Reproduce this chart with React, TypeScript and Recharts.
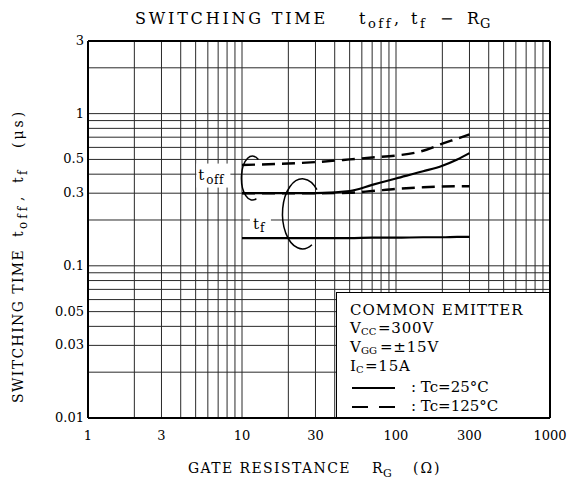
import { LineChart, Line, XAxis, YAxis, ReferenceLine, ReferenceDot } from 'recharts'

const FONT = '"DejaVu Serif", "Liberation Serif", serif'

// axis ticks and grid
const xTicks = [1, 3, 10, 30, 100, 300, 1000]
const yTicks = [0.01, 0.03, 0.05, 0.1, 0.3, 0.5, 1, 3]
const xGrid = [2, 3, 4, 5, 6, 7, 8, 9, 10, 20, 30, 40, 50, 60, 70, 80, 90, 100, 200, 300, 400, 500, 600, 700, 800, 900]
const yGrid = [0.02, 0.03, 0.04, 0.05, 0.06, 0.07, 0.08, 0.09, 0.1, 0.2, 0.3, 0.4, 0.5, 0.6, 0.7, 0.8, 0.9, 1, 2]

// gate resistance (ohm)
const rg = [10, 20, 30, 50, 70, 100, 150, 200, 250, 300]
// times (us)
const toff25 = [0.3, 0.3, 0.3, 0.31, 0.34, 0.375, 0.418, 0.455, 0.5, 0.55]
const toff125 = [0.46, 0.47, 0.48, 0.5, 0.515, 0.53, 0.57, 0.635, 0.685, 0.73]
const toff125Low = [0.3, 0.3, 0.3, 0.302, 0.31, 0.32, 0.328, 0.332, 0.333, 0.333]
const tf25 = [0.152, 0.152, 0.152, 0.152, 0.153, 0.153, 0.154, 0.154, 0.155, 0.155]

const toRows = (ys: number[]) => rg.map((x, i) => ({ x, y: ys[i] }))

const XTick = ({ x, y, payload }: any) => (
  <text x={x} y={y + 22} textAnchor="middle" fontFamily={FONT} fontSize={13} fill="#000">
    {payload.value}
  </text>
)

const YTick = ({ x, y, payload }: any) => (
  <text x={x - 4} y={y} dy="0.3em" textAnchor="end" fontFamily={FONT} fontSize={13} fill="#000">
    {payload.value}
  </text>
)

function ToffMark({ cx, cy }: { cx: number; cy: number }) {
  return (
    <g fontFamily={FONT} fill="#000">
      <rect x={cx - 52} y={cy - 14} width={34} height={24} fill="#fff" />
      <text x={cx - 50} y={cy + 2} fontSize={15}>t</text>
      <text x={cx - 42} y={cy + 6} fontSize={12} letterSpacing={0.5}>off</text>
      <path
        d={`M ${cx + 10} ${cy - 18} A 11 22 0 1 0 ${cx + 8} ${cy + 21}`}
        fill="none"
        stroke="#000"
        strokeWidth={1.5}
      />
    </g>
  )
}

function TfMark({ cx, cy }: { cx: number; cy: number }) {
  return (
    <g fontFamily={FONT} fill="#000">
      <rect x={cx - 52} y={cy - 1} width={21} height={22} fill="#fff" />
      <text x={cx - 49} y={cy + 15} fontSize={15}>t</text>
      <text x={cx - 42} y={cy + 18} fontSize={12}>f</text>
      <path
        d={`M ${cx + 15} ${cy - 24} A 20 35 0 1 0 ${cx + 10} ${cy + 31}`}
        fill="none"
        stroke="#000"
        strokeWidth={1.5}
      />
    </g>
  )
}

function Legend() {
  return (
    <div
      style={{
        position: 'absolute',
        left: 336,
        top: 292,
        width: 213,
        height: 125,
        background: '#fff',
        borderLeft: '1.5px solid #000',
        borderTop: '1.5px solid #000',
        boxSizing: 'border-box',
      }}
    >
      <svg width={213} height={125} style={{ display: 'block' }}>
        <g fontFamily={FONT} fill="#000" fontSize={15}>
          <text x={13} y={22} letterSpacing={1}>COMMON EMITTER</text>
          <text x={13} y={40}>V</text>
          <text x={24} y={42} fontSize={10}>CC</text>
          <text x={41} y={40} letterSpacing={0.8}>=300V</text>
          <text x={13} y={59}>V</text>
          <text x={24} y={61} fontSize={10}>GG</text>
          <text x={43} y={59} letterSpacing={0.8}>=±15V</text>
          <text x={13} y={78}>I</text>
          <text x={19} y={80} fontSize={10}>C</text>
          <text x={28} y={78} letterSpacing={0.8}>=15A</text>
          <line x1={15} x2={58} y1={95} y2={95} stroke="#000" strokeWidth={2} />
          <text x={74} y={99}>: Tc=25°C</text>
          <line x1={15} x2={58} y1={114} y2={114} stroke="#000" strokeWidth={2} strokeDasharray="16 11" />
          <text x={74} y={118}>: Tc=125°C</text>
        </g>
      </svg>
    </div>
  )
}

function Labels() {
  return (
    <svg
      width={568}
      height={488}
      style={{ position: 'absolute', left: 0, top: 0, pointerEvents: 'none' }}
    >
      <g fontFamily={FONT} fill="#000">
        <text x={135} y={24} fontSize={16} letterSpacing={2.8}>SWITCHING TIME</text>
        <text x={359} y={24} fontSize={16}>t</text>
        <text x={368} y={28} fontSize={13} letterSpacing={2.5}>off</text>
        <text x={394} y={24} fontSize={16}>,</text>
        <text x={411} y={24} fontSize={16}>t</text>
        <text x={420} y={28} fontSize={13}>f</text>
        <text x={440} y={24} fontSize={16}>−</text>
        <text x={467} y={24} fontSize={16}>R</text>
        <text x={480} y={28} fontSize={13}>G</text>

        <text x={188} y={473} fontSize={14} letterSpacing={1.4}>GATE RESISTANCE</text>
        <text x={372} y={473} fontSize={14}>R</text>
        <text x={383} y={477} fontSize={11}>G</text>
        <text x={413} y={473} fontSize={14} letterSpacing={2}>(Ω)</text>

        <g transform="translate(23,0) rotate(-90)">
          <text x={-403} y={0} fontSize={14} letterSpacing={1.4}>SWITCHING TIME</text>
          <text x={-237} y={0} fontSize={14}>t</text>
          <text x={-229} y={4} fontSize={12} letterSpacing={3}>off</text>
          <text x={-201} y={0} fontSize={14}>,</text>
          <text x={-183} y={0} fontSize={14}>t</text>
          <text x={-175} y={4} fontSize={12}>f</text>
          <text x={-148} y={0} fontSize={14} letterSpacing={3}>(μs)</text>
        </g>
      </g>
    </svg>
  )
}

export default function App() {
  return (
    <div style={{ position: 'absolute', left: 0, top: 0, width: 568, height: 488, background: '#fff' }}>
      <LineChart width={568} height={488} margin={{ top: 41, right: 18, left: 8, bottom: 40 }}>
        <XAxis
          dataKey="x"
          type="number"
          scale="log"
          domain={[1, 1000]}
          allowDataOverflow
          ticks={xTicks}
          tick={<XTick />}
          tickSize={0}
          tickMargin={0}
          axisLine={false}
          height={30}
        />
        <YAxis
          dataKey="y"
          type="number"
          scale="log"
          domain={[0.01, 3]}
          allowDataOverflow
          ticks={yTicks}
          tick={<YTick />}
          tickSize={0}
          tickMargin={0}
          axisLine={false}
          width={80}
        />
        {xGrid.map((v) => (
          <ReferenceLine key={`vx${v}`} x={v} stroke="#2a2a2a" strokeWidth={1} />
        ))}
        {yGrid.map((v) => (
          <ReferenceLine key={`hy${v}`} y={v} stroke="#2a2a2a" strokeWidth={1} />
        ))}
        <ReferenceLine x={1} stroke="#000" strokeWidth={2} />
        <ReferenceLine x={1000} stroke="#000" strokeWidth={2} />
        <ReferenceLine y={0.01} stroke="#000" strokeWidth={2} />
        <ReferenceLine y={3} stroke="#000" strokeWidth={2} />
        <Line data={toRows(tf25)} dataKey="y" type="monotone" stroke="#000" strokeWidth={2.2} dot={false} isAnimationActive={false} />
        <Line data={toRows(toff125Low)} dataKey="y" type="monotone" stroke="#000" strokeWidth={2.4} strokeDasharray="13 7" dot={false} isAnimationActive={false} />
        <Line data={toRows(toff25)} dataKey="y" type="monotone" stroke="#000" strokeWidth={2.2} dot={false} isAnimationActive={false} />
        <Line data={toRows(toff125)} dataKey="y" type="monotone" stroke="#000" strokeWidth={2.4} strokeDasharray="13 7" dot={false} isAnimationActive={false} />
        <ReferenceDot x={11} y={0.38} r={0} ifOverflow="visible" shape={(p: any) => <ToffMark cx={p.cx} cy={p.cy} />} />
        <ReferenceDot x={24.5} y={0.22} r={0} ifOverflow="visible" shape={(p: any) => <TfMark cx={p.cx} cy={p.cy} />} />
      </LineChart>
      <Legend />
      <Labels />
    </div>
  )
}
